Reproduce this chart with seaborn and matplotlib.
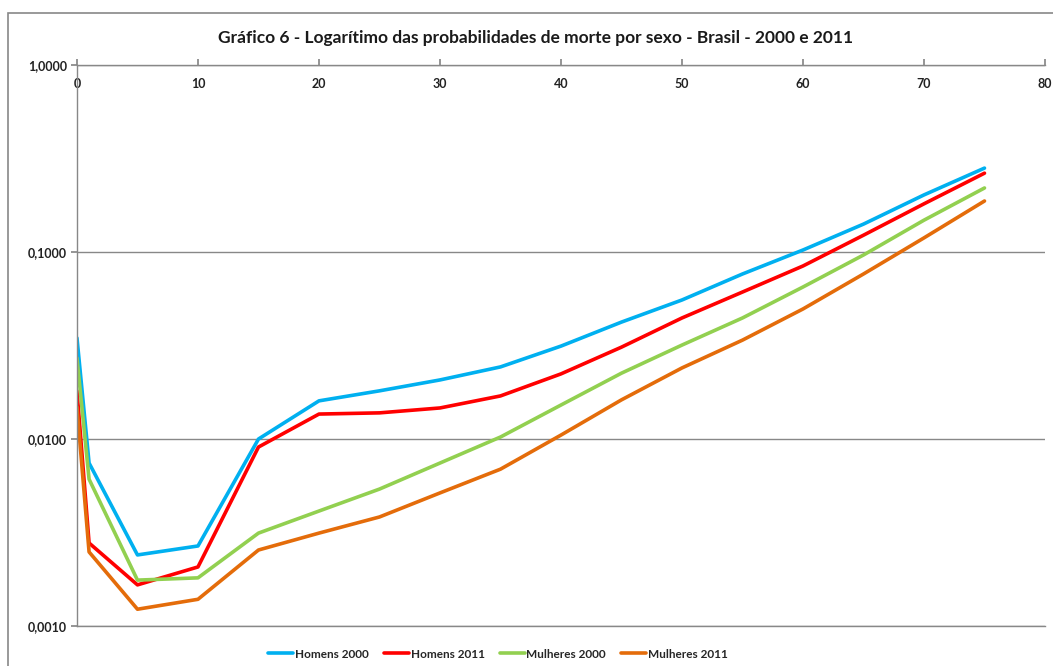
import matplotlib
matplotlib.use("Agg")
import matplotlib.pyplot as plt
import matplotlib.ticker as mticker
from matplotlib.patches import Rectangle
import seaborn as sns
import pandas as pd

ages = [0, 1, 5, 10, 15, 20, 25, 30, 35, 40, 45, 50, 55, 60, 65, 70, 75]
homens_2000 = [0.0347, 0.00744, 0.00240, 0.00268, 0.0100, 0.0160, 0.0181, 0.0207, 0.0243,
               0.0314, 0.0422, 0.0554, 0.0763, 0.1025, 0.141, 0.202, 0.281]
homens_2011 = [0.0181, 0.00278, 0.00166, 0.00207, 0.00906, 0.0136, 0.0138, 0.01466, 0.0170,
               0.0223, 0.0310, 0.0444, 0.0611, 0.0842, 0.123, 0.181, 0.264]
mulheres_2000 = [0.0271, 0.0061, 0.00176, 0.00181, 0.00314, 0.00412, 0.0054, 0.00744, 0.01025,
                 0.0152, 0.0225, 0.0318, 0.0444, 0.065, 0.0964, 0.148, 0.220]
mulheres_2011 = [0.0148, 0.00249, 0.00123, 0.00139, 0.00255, 0.00314, 0.00383, 0.00515, 0.0069,
                 0.0105, 0.0162, 0.0240, 0.0338, 0.0496, 0.0763, 0.119, 0.1874]
series_names = ["Homens 2000", "Homens 2011", "Mulheres 2000", "Mulheres 2011"]
colors = ["#00B0F0", "#FF0000", "#92D050", "#E46C0A"]
title = "Gráfico 6 - Logarítimo das probabilidades de morte por sexo - Brasil - 2000 e 2011"
x_ticks = [0, 10, 20, 30, 40, 50, 60, 70, 80]
y_ticks = [0.001, 0.01, 0.1, 1.0]
y_labels = ["0,0010", "0,0100", "0,1000", "1,0000"]

rows = []
for name, vals in zip(series_names, [homens_2000, homens_2011, mulheres_2000, mulheres_2011]):
    for a, v in zip(ages, vals):
        rows.append({"idade": a, "prob": v, "serie": name})
df = pd.DataFrame(rows)

sns.set_theme(style="white")
plt.rcParams["font.family"] = ["Lato", "DejaVu Sans"]

fig = plt.figure(figsize=(10.53, 6.66), dpi=100)
ax = fig.add_axes([0.0731, 0.060, 0.9193, 0.8424])

sns.lineplot(data=df, x="idade", y="prob", hue="serie", palette=colors,
             hue_order=series_names, linewidth=2.6, ax=ax, legend=True)

ax.set_yscale("log")
ax.set_ylim(0.001, 1.0)
ax.set_xlim(0, 80)
ax.set_yticks(y_ticks)
ax.set_yticklabels(y_labels)
ax.yaxis.set_minor_locator(mticker.NullLocator())
ax.set_xticks(x_ticks)
ax.xaxis.tick_top()
ax.set_xlabel("")
ax.set_ylabel("")
for t in ax.get_xticklabels() + ax.get_yticklabels():
    t.set_fontweight("bold")
    t.set_fontsize(9)
    t.set_color("#222222")
ax.tick_params(axis="x", which="major", direction="out", length=4, color="#888888", pad=-22, top=True, bottom=False)
ax.tick_params(axis="y", which="major", direction="out", length=4, color="#888888", pad=3, left=True)
ax.grid(axis="y", which="major", color="#888888", linewidth=1)
ax.set_axisbelow(True)
ax.spines["right"].set_visible(False)
for s in ["left", "top", "bottom"]:
    ax.spines[s].set_color("#888888")
    ax.spines[s].set_linewidth(1)

fig.text(0.509, 0.943, title, ha="center", va="center", fontsize=12.5, fontweight="bold", color="#1a1a1a")

handles, labels = ax.get_legend_handles_labels()
ax.get_legend().remove()
fig.legend(handles, labels, loc="center", bbox_to_anchor=(0.473, 0.018), ncol=4, frameon=False,
           prop={"size": 8.5, "weight": "bold"}, handlelength=2.1, handletextpad=0.15, columnspacing=1.3)

fig.patches.append(Rectangle((8 / 1053, -0.1), 1.2, 1 - 13 / 666 + 0.1, transform=fig.transFigure,
                             fill=False, edgecolor="#888888", linewidth=1.2))

fig.savefig("out.png", dpi=100)
